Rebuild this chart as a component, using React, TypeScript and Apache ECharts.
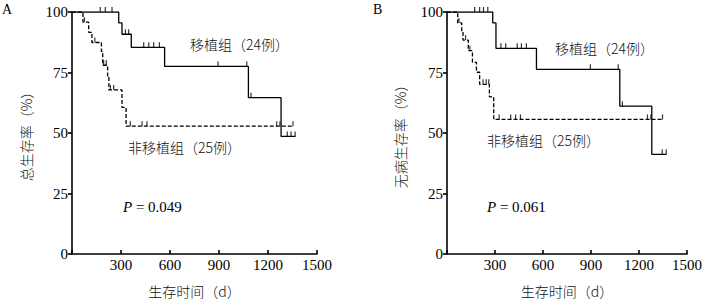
import React, { useEffect, useRef } from "react";
import * as echarts from "echarts";

// ---------- Data (days, survival %) ----------
// Panel A: overall survival
const osTransplantTimes = [0, 286, 306, 363, 567, 1080, 1280, 1368];
const osTransplantSurv = [100, 95.5, 90.8, 85.4, 77.5, 64.6, 48.6, 48.6];
const osTransplantCensor = [173, 204, 245, 327, 347, 439, 470, 500, 535, 894, 1070, 1096, 1318, 1341, 1366];

const osNonTimes = [0, 67, 102, 122, 180, 188, 218, 226, 306, 331, 1355];
const osNonSurv = [100, 95.8, 91.6, 87.4, 83.7, 78, 73, 67.8, 60.6, 52.8, 52.8];
const osNonCensor = [76, 140, 194, 210, 235, 255, 357, 429, 459, 1253, 1273, 1353];

// Panel B: disease-free survival
const dfsTransplantTimes = [0, 286, 306, 559, 1080, 1280, 1372];
const dfsTransplantSurv = [100, 95.5, 85.0, 76.3, 61.1, 41.2, 41.2];
const dfsTransplantCensor = [173, 204, 228, 255, 337, 367, 439, 465, 496, 896, 1070, 1096, 1345, 1370];

const dfsNonTimes = [0, 67, 92, 100, 133, 159, 184, 204, 265, 292, 1349];
const dfsNonSurv = [100, 95.5, 92, 88.4, 84, 79.2, 75.1, 70.1, 64.9, 55.6, 55.6];
const dfsNonCensor = [75, 116, 143, 225, 245, 261, 326, 398, 429, 459, 1253, 1274, 1347];

const xTicks = { min: 0, max: 1500, interval: 300 };
const yTicks = { min: 0, max: 100, interval: 25 };

const groupTransplant = "移植组（24例）";
const groupNon = "非移植组（25例）";
const pValueA = "0.049";
const pValueB = "0.061";
const yTitleA = "总生存率（%）";
const yTitleB = "无病生存率（%）";
const xTitle = "生存时间（d）";

// ---------- helpers ----------
const levelAt = (times: number[], surv: number[], t: number) => {
  let v = surv[0];
  for (let i = 0; i < times.length; i++) if (times[i] <= t) v = surv[i];
  return v;
};
const pairs = (times: number[], surv: number[]) => times.map((t, i) => [t, surv[i]]);
const censorPts = (times: number[], surv: number[], c: number[]) =>
  c.map((t) => [t, levelAt(times, surv, t)]);

const SERIF = "'Liberation Serif', 'DejaVu Serif', serif";
const CJK = "'Noto Sans CJK SC', sans-serif";

export default function App() {
  const ref = useRef<HTMLDivElement>(null);

  useEffect(() => {
    document.body.style.margin = "0";
    if (!ref.current) return;
    const chart = echarts.init(ref.current, undefined, { renderer: "svg" });

    const axisCommonX = (gridIndex: number) => ({
      type: "value",
      gridIndex,
      ...xTicks,
      axisLine: { show: true, lineStyle: { color: "#000", width: 1.6 } },
      axisTick: { show: true, inside: true, length: 4, lineStyle: { color: "#000", width: 1.6 } },
      axisLabel: {
        color: "#000",
        fontFamily: SERIF,
        fontSize: 15,
        margin: 3,
        formatter: (v: number) => (v === 0 ? "" : String(v)),
      },
      splitLine: { show: false },
      name: xTitle,
      nameLocation: "middle",
      nameGap: 30,
      nameTextStyle: { color: "#111", fontFamily: CJK, fontSize: 14, fontWeight: 300 },
    });
    const axisCommonY = (gridIndex: number, name: string, gap: number) => ({
      type: "value",
      gridIndex,
      ...yTicks,
      axisLine: { show: true, lineStyle: { color: "#000", width: 1.6 } },
      axisTick: { show: true, inside: false, length: 4, lineStyle: { color: "#000", width: 1.6 } },
      axisLabel: { color: "#000", fontFamily: SERIF, fontSize: 15, margin: 4 },
      splitLine: { show: false },
      name,
      nameLocation: "middle",
      nameRotate: 90,
      nameGap: gap,
      nameTextStyle: { color: "#111", fontFamily: CJK, fontSize: 14, fontWeight: 300 },
    });

    const stepLine = (idx: number, times: number[], surv: number[], dashed: boolean) => ({
      type: "line",
      xAxisIndex: idx,
      yAxisIndex: idx,
      step: "end",
      showSymbol: false,
      symbol: "none",
      data: pairs(times, surv),
      lineStyle: { color: "#000", width: 1.3, type: dashed ? [4, 2] : "solid" },
      silent: true,
    });
    const censor = (idx: number, times: number[], surv: number[], c: number[]) => ({
      type: "scatter",
      xAxisIndex: idx,
      yAxisIndex: idx,
      symbol: "rect",
      symbolSize: [1.2, 5],
      symbolOffset: [0, -2.5],
      itemStyle: { color: "#000" },
      data: censorPts(times, surv, c),
      silent: true,
    });

    const txt = (x: number, y: number, text: string, font: string, size: number, extra: any = {}) => ({
      type: "text",
      x,
      y,
      style: {
        text,
        fontFamily: font,
        fontSize: size,
        fill: "#111",
        align: "left",
        verticalAlign: "middle",
        ...extra,
      },
    });
    const pText = (x: number, y: number, val: string) => ({
      type: "text",
      x,
      y,
      style: {
        text: `{i|P} = ${val}`,
        fontFamily: SERIF,
        fontSize: 15,
        fill: "#000",
        align: "left",
        verticalAlign: "middle",
        rich: {
          i: { fontFamily: SERIF, fontSize: 15, fontStyle: "italic", fill: "#000" },
        },
      },
    });

    chart.setOption({
      animation: false,
      grid: [
        { left: 72, top: 12, width: 245, height: 246 },
        { left: 447, top: 12, width: 246, height: 245 },
      ],
      xAxis: [axisCommonX(0), axisCommonX(1)],
      yAxis: [axisCommonY(0, yTitleA, 39), axisCommonY(1, yTitleB, 40)],
      series: [
        stepLine(0, osTransplantTimes, osTransplantSurv, false),
        stepLine(0, osNonTimes, osNonSurv, true),
        censor(0, osTransplantTimes, osTransplantSurv, osTransplantCensor),
        censor(0, osNonTimes, osNonSurv, osNonCensor),
        stepLine(1, dfsTransplantTimes, dfsTransplantSurv, false),
        stepLine(1, dfsNonTimes, dfsNonSurv, true),
        censor(1, dfsTransplantTimes, dfsTransplantSurv, dfsTransplantCensor),
        censor(1, dfsNonTimes, dfsNonSurv, dfsNonCensor),
      ],
      graphic: [
        txt(2, 9, "A", SERIF, 14, { fill: "#000" }),
        txt(373, 9, "B", SERIF, 14, { fill: "#000" }),
        txt(190, 44, groupTransplant, CJK, 14, { fontWeight: 300 }),
        txt(128, 147, groupNon, CJK, 14, { fontWeight: 300 }),
        txt(555, 48, groupTransplant, CJK, 14, { fontWeight: 300 }),
        txt(487, 140, groupNon, CJK, 14, { fontWeight: 300 }),
        pText(123, 207, pValueA),
        pText(487, 207, pValueB),
      ],
    });

    return () => chart.dispose();
  }, []);

  return <div ref={ref} style={{ width: 705, height: 303 }} />;
}
